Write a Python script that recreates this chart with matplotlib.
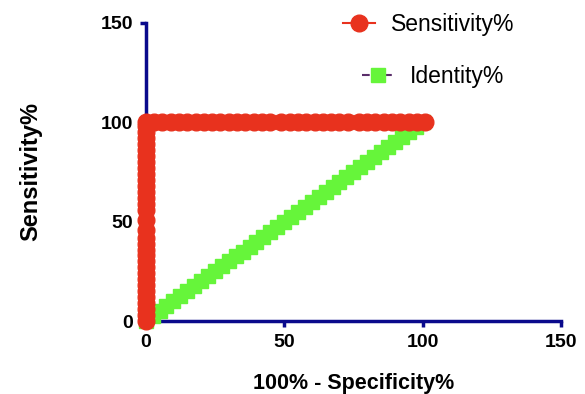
import matplotlib
matplotlib.use("Agg")
import matplotlib.pyplot as plt
from matplotlib.lines import Line2D

plt.rcParams['font.family'] = ['Liberation Sans', 'DejaVu Sans']

# ROC curve points (100% - Specificity%, Sensitivity%)
roc_x = [0, 0, 0, 0, 0, 0, 0, 0, 0, 0, 0, 0, 0, 0, 0, 0, 0, 0, 0, 0, 0, 0, 0, 0, 0, 0, 0, 0, 0, 0, 0, 0, 0,
         3, 6, 9, 12, 15, 18, 21, 24, 27, 30, 33, 36, 39, 42, 45, 49, 52, 55, 58, 61, 64, 67, 70, 73, 77,
         80, 83, 86, 89, 92, 95, 98, 101]
roc_y = [0, 3, 6, 9, 12, 15, 18, 21, 24, 27, 30, 33, 36, 39, 42, 46, 51, 56, 59, 62, 65, 68, 71, 74, 77,
         80, 83, 86, 89, 92, 95, 98, 100,
         100, 100, 100, 100, 100, 100, 100, 100, 100, 100, 100, 100, 100, 100, 100, 100, 100, 100, 100,
         100, 100, 100, 100, 100, 100, 100, 100, 100, 100, 100, 100, 100, 100]

# Identity line points
ident_x = [0, 2.5, 5, 7.5, 10, 12.5, 15, 17.5, 20, 22.5, 25, 27.5, 30, 32.5, 35, 37.5, 40, 42.5, 45,
           47.5, 50, 52.5, 55, 57.5, 60, 62.5, 65, 67.5, 70, 72.5, 75, 77.5, 80, 82.5, 85, 87.5, 90,
           92.5, 95, 97.5, 100]
ident_y = ident_x

x_ticks = [0, 50, 100, 150]
y_ticks = [0, 50, 100, 150]

red = '#E8321E'
green = '#66F53A'
navy = '#0A0A8C'

fig = plt.figure(figsize=(5.85, 3.94), dpi=100)
ax = fig.add_axes([0.249, 0.185, 0.710, 0.757])

ax.plot(ident_x, ident_y, linestyle='-', color='#5A2D6A', lw=1, marker='s', markersize=9.5,
        markerfacecolor=green, markeredgecolor=green, clip_on=False, zorder=3)
ax.plot(roc_x, roc_y, linestyle='-', color=red, lw=1, marker='o', markersize=12,
        markerfacecolor=red, markeredgecolor=red, clip_on=False, zorder=4)

ax.set_xlim(0, 150)
ax.set_ylim(0, 150)
ax.set_xticks(x_ticks)
ax.set_yticks(y_ticks)
for s in ['top', 'right']:
    ax.spines[s].set_visible(False)
for s in ['left', 'bottom']:
    ax.spines[s].set_color(navy)
    ax.spines[s].set_linewidth(2.5)
ax.spines['bottom'].set_bounds(6, 150)
ax.tick_params(axis='both', direction='out', length=4, width=2.5, color=navy,
               labelsize=14)
ax.tick_params(axis='x', pad=5)
ax.tick_params(axis='y', pad=5)
for lab in ax.get_xticklabels() + ax.get_yticklabels():
    lab.set_fontweight('bold')

ax.set_xlabel('100% - Specificity%', fontsize=15.5, fontweight='bold', labelpad=16)
ax.set_ylabel('Sensitivity%', fontsize=17, fontweight='bold', labelpad=42)

h1 = Line2D([], [], color=red, lw=1.5, marker='o', markersize=12,
            markerfacecolor=red, markeredgecolor=red)
h2 = Line2D([], [], color='#5A2D6A', lw=1.5, linestyle='--', marker='s', markersize=9.5,
            markerfacecolor=green, markeredgecolor=green)
leg1 = fig.legend([h1], ['Sensitivity%'], loc='center left', bbox_to_anchor=(0.586, 0.937),
                  frameon=False, fontsize=16.5, handlelength=1.4, handletextpad=0.7,
                  borderpad=0, borderaxespad=0)
leg2 = fig.legend([h2], ['Identity%'], loc='center left', bbox_to_anchor=(0.619, 0.805),
                  frameon=False, fontsize=16.5, handlelength=1.4, handletextpad=0.7,
                  borderpad=0, borderaxespad=0)

fig.savefig('out.png', dpi=100)
